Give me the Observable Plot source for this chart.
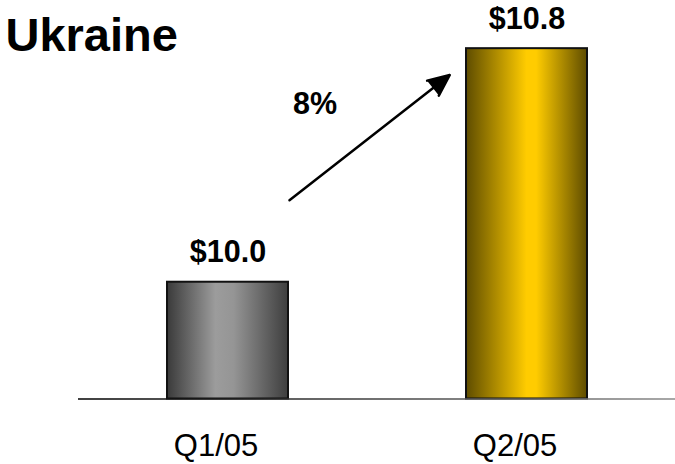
<!DOCTYPE html>
<html>
<head>
<meta charset="utf-8">
<script src="https://cdn.jsdelivr.net/npm/d3@7"></script>
<script src="https://cdn.jsdelivr.net/npm/@observablehq/plot@0.6"></script>
<style>
  html, body { margin: 0; padding: 0; background: #fff; }
  #chart svg { display: block; font-family: Arial, "Liberation Sans", sans-serif; }
</style>
</head>
<body>
<div id="chart"></div>
<script>
const title = "Ukraine";
const quarters = ["Q1/05", "Q2/05"];
const values = [10.0, 10.8];
const valueLabels = ["$10.0", "$10.8"];
const fills = ["url(#gradGray)", "url(#gradGold)"];
const growthLabel = "8%";
const yBase = 9.6;
const yTop = 10.965;

const data = quarters.map((q, i) => ({q, value: values[i], label: valueLabels[i], fill: fills[i]}));
const arrowData = [{from: quarters[0], to: quarters[1], v1: values[0], v2: values[1]}];

const font = "Arial, 'Liberation Sans', sans-serif";

const chart = Plot.plot({
  width: 675,
  height: 464,
  marginTop: 0,
  marginRight: 0,
  marginBottom: 65.5,
  marginLeft: 78,
  style: {fontFamily: font, background: "#fff", overflow: "visible"},
  x: {domain: quarters, paddingInner: 0.596, paddingOuter: 0.295, label: null},
  y: {domain: [yBase, yTop], axis: null},
  color: {type: "identity"},
  marks: [
    Plot.barY(data, {x: "q", y1: () => yBase, y2: "value", fill: "fill", stroke: "#111", strokeWidth: 2}),
    Plot.ruleY([yBase], {stroke: "url(#gradBase)", strokeWidth: 1.5}),
    Plot.text(data, {x: "q", y: "value", text: "label", lineAnchor: "bottom", dy: -20, fontSize: 30.5, fontWeight: "bold", fill: "#000"}),
    Plot.arrow(arrowData, {x1: "from", y1: "v1", x2: "to", y2: "v2", bend: 0, dy: -34, insetStart: 78, insetEnd: 98, stroke: "#000", fill: "#000", strokeWidth: 2.5, headLength: 14, headAngle: 48}),
    Plot.text([growthLabel], {x: () => quarters[0], y: () => values[1], text: d => d, lineAnchor: "bottom", textAnchor: "middle", dx: 87, dy: 65, fontSize: 30.5, fontWeight: "bold", fill: "#000"}),
    Plot.text([title], {frameAnchor: "top-left", text: d => d, textAnchor: "start", lineAnchor: "bottom", dx: -73, dy: 50, fontSize: 47, fontWeight: "bold", fill: "#000"}),
    Plot.axisX({tickSize: 0, tickPadding: 35, fontSize: 31, dx: -12, fill: "#000", label: null})
  ]
});

const xr = chart.scale("x").range;
const defs = d3.select(chart).insert("defs", ":first-child");
function grad(id, stops, attrs = {}) {
  const g = defs.append("linearGradient").attr("id", id).attr("x1", "0%").attr("x2", "100%").attr("y1", "0%").attr("y2", "0%");
  for (const [k, v] of Object.entries(attrs)) g.attr(k, v);
  for (const [o, c] of stops) g.append("stop").attr("offset", o).attr("stop-color", c);
}
grad("gradGray", [["0%", "#3a3a3a"], ["40%", "#9c9c9c"], ["55%", "#959595"], ["100%", "#3e3e3e"]]);
grad("gradGold", [["0%", "#5e4c00"], ["50%", "#ffcc00"], ["58%", "#ffcc00"], ["100%", "#5e4c00"]]);
grad("gradBase", [["0%", "#000"], ["40%", "#333"], ["100%", "#8a8a8a"]], {gradientUnits: "userSpaceOnUse", x1: xr[0], x2: xr[1], y1: 0, y2: 0});

document.getElementById("chart").appendChild(chart);
</script>
</body>
</html>
